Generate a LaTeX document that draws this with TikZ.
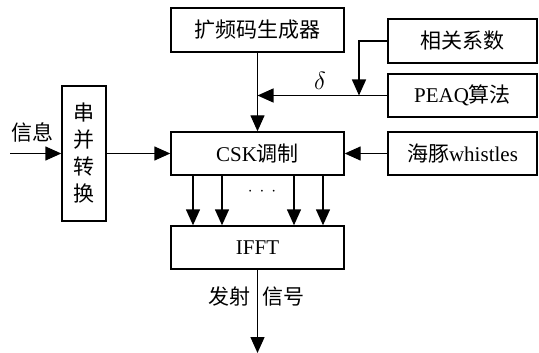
\documentclass[tikz,border=0pt]{standalone}
\usepackage{fontspec}
\setmainfont{Liberation Serif}
\newfontfamily\cjk{Noto Sans CJK SC}
\usetikzlibrary{arrows.meta}
\begin{document}
\begin{tikzpicture}[x=1pt,y=-1pt,
  box/.style={draw, line width=1.4pt, inner sep=0pt, font=\fontsize{21}{25}\selectfont},
  arr/.style={line width=1.4pt, -{Triangle[length=16pt,width=14pt]}},
  lab/.style={font=\fontsize{21}{25}\selectfont, inner sep=0pt}]
\useasboundingbox (0,0) rectangle (539,353);
\node[box, minimum width=173pt, minimum height=44pt] (gen) at (257.5,30) {\cjk 扩频码生成器};
\node[box, minimum width=149pt, minimum height=44pt] (corr) at (462.5,41) {\cjk 相关系数};
\node[box, minimum width=149pt, minimum height=43pt] (peaq) at (462.5,95.5) {PEAQ{\cjk 算法}};
\node[box, minimum width=149pt, minimum height=43pt] (whis) at (462.5,153.5) {{\cjk 海豚}whistles};
\node[box, minimum width=173pt, minimum height=43pt] (csk) at (257.5,153.5) {CSK{\cjk 调制}};
\node[box, minimum width=173pt, minimum height=43pt] (ifft) at (257.5,247.5) {IFFT};
\node[box, minimum width=44pt, minimum height=135pt, align=center, font=\fontsize{21}{27}\selectfont\cjk] (sp) at (84,153.5) {串\\并\\转\\换};
\coordinate (in) at (10,153.5);
\coordinate (j) at (257.5,95.5);
\coordinate (k) at (359,95.5);
\coordinate (out) at (257.5,353);
\coordinate (a1) at (193,0);
\coordinate (a2) at (222,0);
\coordinate (a3) at (294,0);
\coordinate (a4) at (323,0);
\draw[arr] (in) -- (sp.west);
\draw[arr] (sp.east) -- (csk.west);
\draw[arr] (gen.south) -- (csk.north);
\draw[arr] (peaq.west) -- (j);
\draw[arr] (corr.west) -| (k);
\draw[arr] (whis.west) -- (csk.east);
\foreach \a in {a1,a2,a3,a4} \draw[arr] (csk.south -| \a) -- (ifft.north -| \a);
\draw[arr] (ifft.south) -- (out);
\node[lab] (info) at (33,132) {\cjk 信息};
\node[lab, font=\fontsize{26}{30}\selectfont] (delta) at (320,81) {$\delta$};
\node[lab, font=\fontsize{16}{16}\selectfont] (dots) at (262,192) {$\cdot$\hspace{7pt}$\cdot$\hspace{7pt}$\cdot$};
\node[lab] (fs) at (229,297) {\cjk 发射};
\node[lab] (xh) at (283,297) {\cjk 信号};
\end{tikzpicture}
\end{document}
